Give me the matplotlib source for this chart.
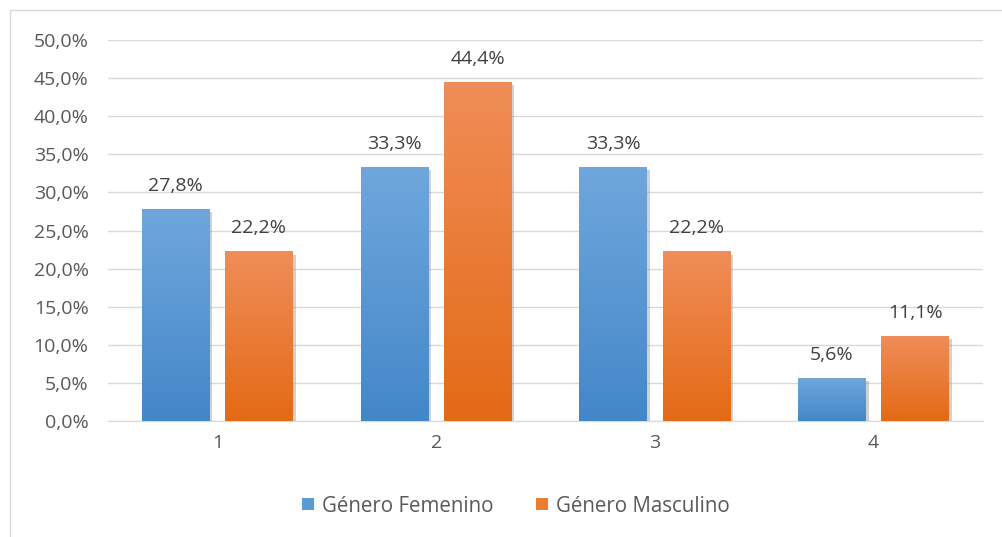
import matplotlib
import matplotlib.pyplot as plt
import matplotlib.patheffects as pe
import numpy as np
from matplotlib.colors import LinearSegmentedColormap
from matplotlib.patches import Patch, Rectangle

matplotlib.use("Agg")

categories = ["1", "2", "3", "4"]
femenino = [0.278, 0.333, 0.333, 0.056]
masculino = [0.222, 0.444, 0.222, 0.111]
series_names = ["Género Femenino", "Género Masculino"]
yticks = [0.0, 0.05, 0.10, 0.15, 0.20, 0.25, 0.30, 0.35, 0.40, 0.45, 0.50]

plt.rcParams["font.family"] = ["Open Sans", "DejaVu Sans"]
FS = 14

fig = plt.figure(figsize=(10.02, 5.37), dpi=100)
ax = fig.add_axes([108 / 1002, 116 / 537, 875 / 1002, 381 / 537])

# chart border
fig.patches.append(Rectangle((10 / 1002, -0.1), 1.1, (527 / 537) + 0.1, transform=fig.transFigure,
                             fill=False, edgecolor="#D9D9D9", linewidth=1.0))

grad = {
    "f": LinearSegmentedColormap.from_list("f", ["#4387C9", "#6FA7DC"]),
    "m": LinearSegmentedColormap.from_list("m", ["#E36A15", "#F08D58"]),
}
solid = {"f": "#5B9BD5", "m": "#ED7D31"}

x = np.arange(len(categories))
width = 0.31
offset = 0.19
shadow = [pe.SimplePatchShadow(offset=(2, -2), shadow_rgbFace="#9A9A9A", alpha=0.45), pe.Normal()]
g = np.linspace(0, 1, 256).reshape(-1, 1)

for key, vals, dx in [("f", femenino, -offset), ("m", masculino, offset)]:
    bars = ax.bar(x + dx, vals, width, color=grad[key](0.0), zorder=2)
    for b, v in zip(bars, vals):
        b.set_path_effects(shadow)
        x0 = b.get_x()
        ax.imshow(g, cmap=grad[key], extent=(x0, x0 + width, 0, v), origin="lower",
                  aspect="auto", zorder=3, interpolation="bilinear")
        ax.annotate(f"{v * 100:.1f}%".replace(".", ","), (x0 + width / 2, v), xytext=(0, 10.5),
                    textcoords="offset points", ha="center", va="bottom", fontsize=FS, color="#404040")

ax.set_xlim(-0.5, 3.5)
ax.set_ylim(0, 0.5)
ax.set_xticks(x)
ax.set_xticklabels(categories)
ax.set_yticks(yticks)
ax.set_yticklabels([f"{t * 100:.1f}%".replace(".", ",") for t in yticks])
ax.tick_params(axis="both", length=0, labelsize=FS, labelcolor="#595959")
ax.tick_params(axis="y", pad=14)
ax.tick_params(axis="x", pad=9)
ax.yaxis.grid(True, color="#D9D9D9", linewidth=1.0, zorder=0)
ax.set_axisbelow(True)
for s in ["top", "right", "left"]:
    ax.spines[s].set_visible(False)
ax.spines["bottom"].set_color("#D9D9D9")

handles = [Patch(facecolor=solid["f"]), Patch(facecolor=solid["m"])]
fig.legend(handles, series_names, loc="center", bbox_to_anchor=(516 / 1002, 1 - 506 / 537), ncol=2,
           frameon=False, fontsize=14.8, labelcolor="#595959", handlelength=0.55, handleheight=0.55,
           handletextpad=0.4, columnspacing=2.1)

fig.savefig("out.png", dpi=100)
